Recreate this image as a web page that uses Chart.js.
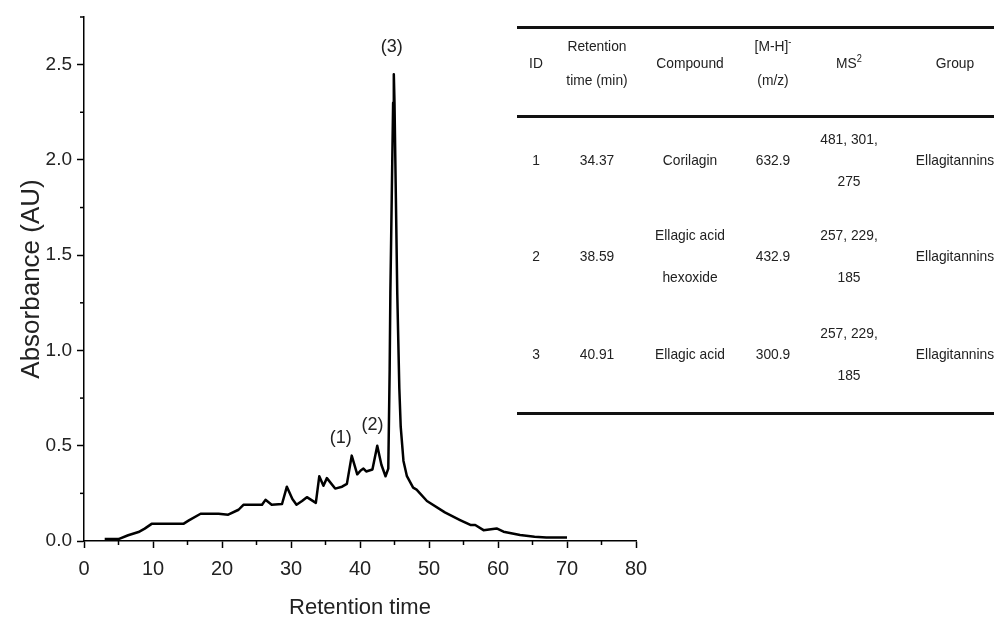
<!DOCTYPE html>
<html>
<head>
<meta charset="utf-8">
<script src="https://cdn.jsdelivr.net/npm/chart.js@4"></script>
<style>
  html, body { margin: 0; padding: 0; background: #fff; }
  #wrap { position: relative; width: 994px; height: 621px; overflow: hidden; }
  #tabla { position: absolute; left: 0; top: 0; width: 994px; height: 621px; pointer-events: none;
           font-family: "Liberation Sans", Arial, sans-serif; font-size: 15px; color: #222; }
  #tabla .regla { position: absolute; left: 517px; width: 477px; height: 3px; background: #111; }
  #tabla span { position: absolute; white-space: nowrap; transform: translate(-50%, -50%) scaleX(0.92); line-height: 1; }
  #tabla sup { font-size: 10px; vertical-align: 6px; line-height: 0; }
</style>
</head>
<body>
<div id="wrap">
  <canvas id="myChart" width="994" height="621"></canvas>
  <div id="tabla"></div>
</div>
<script>
// Datos del cromatograma
const tiempoRetencion = [3.0, 5.0, 6.4, 7.9, 8.8, 9.8, 14.4, 15.2, 16.9, 19.5, 20.9, 22.4, 23.1, 25.8, 26.3, 27.2, 28.7, 29.4, 30.2, 30.8, 31.6, 32.3, 33.6, 34.1, 34.7, 35.2, 36.4, 37.4, 38.1, 38.8, 39.6, 40.1, 40.5, 40.9, 41.8, 42.5, 43.1, 43.7, 44.1, 44.3, 44.4, 44.6, 44.8, 44.9, 45.0, 45.2, 45.4, 45.7, 45.9, 46.3, 46.8, 47.7, 48.2, 49.7, 52.3, 54.5, 56.0, 56.7, 57.9, 59.8, 60.8, 63.2, 65.3, 67.0, 70.0]
const absorbancia = [0.01, 0.01, 0.03, 0.047, 0.065, 0.09, 0.09, 0.108, 0.143, 0.143, 0.138, 0.164, 0.19, 0.19, 0.216, 0.19, 0.194, 0.285, 0.22, 0.19, 0.21, 0.23, 0.2, 0.34, 0.29, 0.33, 0.275, 0.285, 0.3, 0.448, 0.35, 0.37, 0.38, 0.365, 0.375, 0.5, 0.4, 0.34, 0.38, 0.9, 1.3, 1.8, 2.3, 2.45, 2.3, 1.8, 1.3, 0.8, 0.6, 0.42, 0.34, 0.28, 0.27, 0.21, 0.15, 0.11, 0.084, 0.084, 0.057, 0.066, 0.049, 0.031, 0.022, 0.018, 0.018]

// Etiquetas de los picos
const etiquetasPicos = ['(1)', '(2)', '(3)']
const picosX = [37.2, 41.8, 44.6]
const picosY = [0.54, 0.61, 2.59]

// Tabla de compuestos
const encabezados = [['ID'], ['Retention', 'time (min)'], ['Compound'], ['[M-H]<sup>-</sup>', '(m/z)'], ['MS<sup>2</sup>'], ['Group']]
const ids = ['1', '2', '3']
const tiempos = ['34.37', '38.59', '40.91']
const compuestos = [['Corilagin'], ['Ellagic acid', 'hexoxide'], ['Ellagic acid']]
const masas = ['632.9', '432.9', '300.9']
const ms2 = [['481, 301,', '275'], ['257, 229,', '185'], ['257, 229,', '185']]
const grupos = ['Ellagitannins', 'Ellagitannins', 'Ellagitannins']

// Construir la tabla
const tabla = document.getElementById('tabla')
const columnasX = [536, 597, 690, 773, 849, 955]
const filasY = [159, 255, 353]
const agregarTexto = (x, y, lineas, gap) => {
    lineas.forEach((t, i) => {
        const s = document.createElement('span')
        s.innerHTML = t
        s.style.left = x + 'px'
        s.style.top = (y + (i - (lineas.length - 1) / 2) * gap) + 'px'
        tabla.appendChild(s)
    })
}
;[26, 115, 412].forEach(y => {
    const r = document.createElement('div')
    r.className = 'regla'
    r.style.top = y + 'px'
    tabla.appendChild(r)
})
encabezados.forEach((h, i) => agregarTexto(columnasX[i], 62, h, 34))
ids.forEach((id, i) => {
    const y = filasY[i]
    agregarTexto(columnasX[0], y, [id], 42)
    agregarTexto(columnasX[1], y, [tiempos[i]], 42)
    agregarTexto(columnasX[2], y, compuestos[i], 42)
    agregarTexto(columnasX[3], y, [masas[i]], 42)
    agregarTexto(columnasX[4], y, ms2[i], 42)
    agregarTexto(columnasX[5], y, [grupos[i]], 42)
})

// Ticks menores en los ejes
const ticksMenores = {
    id: 'ticksMenores',
    afterDraw(chart) {
        const { ctx, scales: { x, y }, chartArea } = chart
        ctx.save()
        ctx.strokeStyle = '#000'
        ctx.lineWidth = 1.5
        for (let v = 5; v < 80; v += 10) {
            const px = x.getPixelForValue(v)
            ctx.beginPath(); ctx.moveTo(px, chartArea.bottom); ctx.lineTo(px, chartArea.bottom + 4); ctx.stroke()
        }
        for (let v = 0.25; v < 2.8; v += 0.5) {
            const py = y.getPixelForValue(v)
            ctx.beginPath(); ctx.moveTo(chartArea.left, py); ctx.lineTo(chartArea.left - 4, py); ctx.stroke()
        }
        ctx.restore()
    }
}

// Texto de los picos
const textoPicos = {
    id: 'textoPicos',
    afterDatasetsDraw(chart) {
        const { ctx, scales: { x, y } } = chart
        ctx.save()
        ctx.font = '18px "Liberation Sans", Arial, sans-serif'
        ctx.fillStyle = '#222'
        ctx.textAlign = 'center'
        ctx.textBaseline = 'middle'
        etiquetasPicos.forEach((t, i) => ctx.fillText(t, x.getPixelForValue(picosX[i]), y.getPixelForValue(picosY[i])))
        ctx.restore()
    }
}

const fuente = '"Liberation Sans", Arial, sans-serif'
const ctx = document.getElementById('myChart')
new Chart(ctx, {
    type: 'line',
    data: {
        datasets: [{
            data: tiempoRetencion.map((t, i) => ({ x: t, y: absorbancia[i] })),
            borderColor: '#000',
            borderWidth: 2.5,
            pointRadius: 0,
            tension: 0,
            fill: false,
            borderJoinStyle: 'round'
        }]
    },
    options: {
        responsive: false,
        animation: false,
        layout: { padding: { left: 0, right: 358, top: 17, bottom: 0 } },
        plugins: { legend: { display: false }, tooltip: { enabled: false } },
        scales: {
            x: {
                type: 'linear', min: 0, max: 80,
                afterFit: s => { s.height = 80 },
                border: { color: '#000', width: 1.5 },
                grid: { drawOnChartArea: false, tickLength: 7, tickColor: '#000', tickWidth: 1.5 },
                ticks: { stepSize: 10, color: '#222', padding: 9, font: { family: fuente, size: 20 } },
                title: { display: true, text: 'Retention time', color: '#222', font: { family: fuente, size: 22 }, padding: { top: 0, bottom: 0 } }
            },
            y: {
                type: 'linear', min: 0, max: 2.75,
                afterFit: s => { s.width = 84 },
                border: { color: '#000', width: 1.5 },
                grid: { drawOnChartArea: false, tickLength: 7, tickColor: '#000', tickWidth: 1.5 },
                ticks: { stepSize: 0.5, includeBounds: false, color: '#222', padding: 5, font: { family: fuente, size: 19 },
                    callback: v => v.toFixed(1) },
                title: { display: true, text: 'Absorbance (AU)', color: '#222', font: { family: fuente, size: 26 }, padding: { top: 16, bottom: 0 } }
            }
        }
    },
    plugins: [ticksMenores, textoPicos]
})
</script>
</body>
</html>
